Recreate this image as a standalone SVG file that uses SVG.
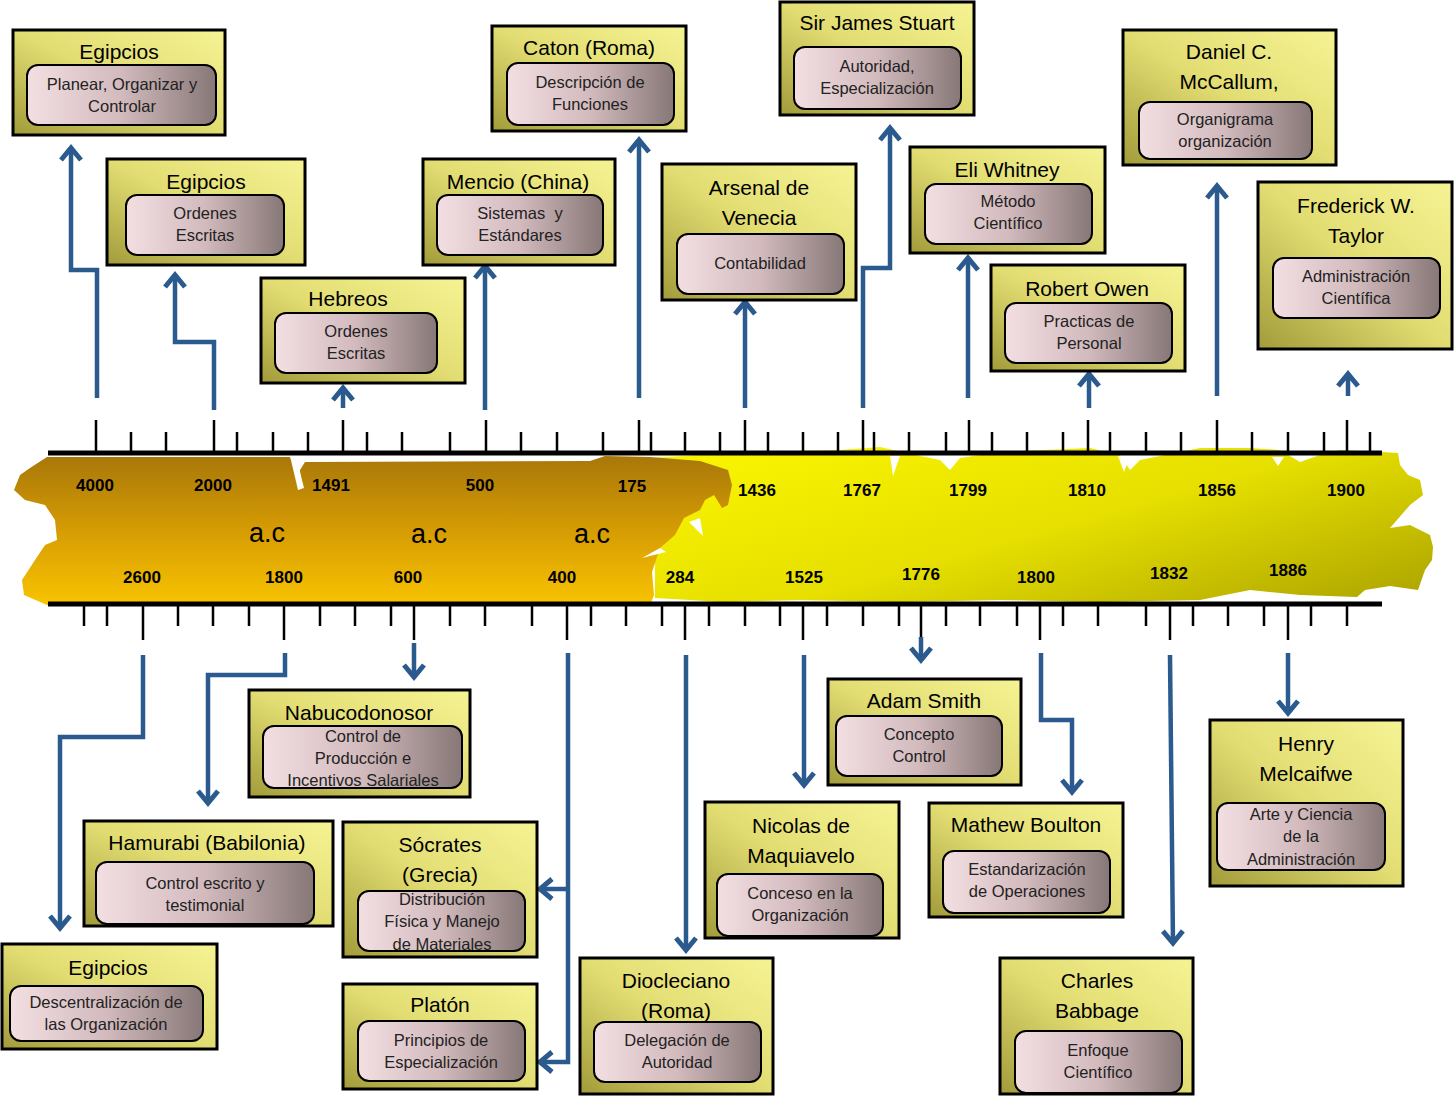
<svg xmlns="http://www.w3.org/2000/svg" width="1454" height="1096" viewBox="0 0 1454 1096">
<defs>
<linearGradient id="gBox" x1="1" y1="0" x2="0" y2="1">
<stop offset="0" stop-color="#f6f394"/>
<stop offset="0.5" stop-color="#e2dd72"/>
<stop offset="1" stop-color="#a29b3a"/>
</linearGradient>
<linearGradient id="gIn" x1="0" y1="0" x2="1" y2="0">
<stop offset="0" stop-color="#f3dfe2"/>
<stop offset="0.5" stop-color="#d2babd"/>
<stop offset="1" stop-color="#877777"/>
</linearGradient>
<linearGradient id="gOr" x1="0" y1="0" x2="0" y2="1">
<stop offset="0" stop-color="#a87709"/>
<stop offset="0.5" stop-color="#d69c04"/>
<stop offset="1" stop-color="#f8c400"/>
</linearGradient>
<linearGradient id="gYe" x1="0" y1="0.2" x2="1" y2="0.9">
<stop offset="0" stop-color="#f8f300"/>
<stop offset="0.5" stop-color="#e6df00"/>
<stop offset="1" stop-color="#b0a800"/>
</linearGradient>
<marker id="ah" markerUnits="userSpaceOnUse" viewBox="-20 -15 26 30" markerWidth="26" markerHeight="30" refX="0" refY="0" orient="auto">
<path d="M-12,-10 L0,0 L-12,10" fill="none" stroke="#2b5a8e" stroke-width="5"/>
</marker>
<style>
.box{fill:url(#gBox);stroke:#000;stroke-width:3}
.in{fill:url(#gIn);stroke:#000;stroke-width:2}
.t{font-family:"Liberation Sans",Arial,sans-serif;font-size:21px;text-anchor:middle;fill:#000}
.s{font-family:"Liberation Sans",Arial,sans-serif;font-size:16.5px;text-anchor:middle;fill:#222}
.yr{font-family:"Liberation Sans",Arial,sans-serif;font-size:17px;font-weight:bold;text-anchor:middle;fill:#000}
.ac{font-family:"Liberation Sans",Arial,sans-serif;font-size:27px;text-anchor:middle;fill:#000}
.conn path{fill:none;stroke:#2b5a8e;stroke-width:4.5;marker-end:url(#ah)}
.tk{stroke:#000;stroke-width:2.5}
.axis{stroke:#000;stroke-width:5}
</style>
</defs>
<rect width="1454" height="1096" fill="#fff"/>

<g id="band">
<path fill="url(#gYe)" d="M650,458 L700,455 L760,452 L840,450 L880,447 L920,456 L940,460 L950,470 L960,458 L1000,452 L1090,448 L1120,455 L1130,470 L1140,460 L1200,448 L1250,448 L1280,450 L1300,462 L1320,455 L1340,450 L1382,452 L1398,453 L1400,465 L1408,475 L1420,480 L1423,495 L1410,505 L1390,528 L1410,525 L1430,535 L1433,547 L1432,560 L1425,570 L1418,590 L1390,586 L1365,590 L1357,597 L1300,595 L1250,590 L1200,600 L1100,602 L1000,600 L900,602 L800,600 L720,602 L690,600 L655,598 L655,460 Z"/>
<path fill="url(#gOr)" d="M47,457 L290,457 L296,470 L301,487 L300,470 L305,462 L590,461 L605,456 L650,457 L700,461 L728,470 L732,485 L728,505 L722,508 L714,495 L705,500 L700,510 L684,518 L675,535 L660,548 L652,572 L654,595 L651,603 L47,605 L24,595 L22,580 L35,560 L45,545 L57,540 L55,520 L45,505 L25,500 L14,490 L20,475 L30,468 Z"/>
<path fill="#fff" d="M290,456 L296,456 L304,488 L298,490 Z"/>
<path fill="#fff" d="M890,456 L900,456 L893,476 Z"/>
<path fill="#fff" d="M1118,456 L1130,456 L1124,472 Z"/>
<path fill="#fff" d="M1272,457 L1284,457 L1278,466 Z"/>
<path fill="#fff" d="M689,522 L700,518 L703,536 Z"/>
<path fill="#fff" d="M642,558 L660,548 L666,552 Z"/>
</g>

<g id="axis">
<line class="axis" x1="48" y1="453" x2="1382" y2="453"/>
<line class="axis" x1="48" y1="604" x2="1382" y2="604"/>
<g class="tk">
<path d="M96,420V453M214,420V453M343,420V453M486,420V453M639,420V453M745,420V453M863,420V453M969,420V453M1088,420V453M1217,420V453M1347,420V453"/>
<path d="M131,432V453M166,432V453M237,432V453M273,432V453M308,432V453M367,432V453M402,432V453M450,432V453M521,432V453M557,432V453M603,432V453M651,432V453M685,432V453M720,432V453M768,432V453M803,432V453M838,432V453M874,432V453M909,432V453M946,432V453M992,432V453M1027,432V453M1063,432V453M1110,432V453M1146,432V453M1181,432V453M1252,432V453M1288,432V453M1324,432V453M1370,432V453"/>
<path d="M143,604V640M284,604V640M414,604V640M567,604V640M685,604V640M803,604V640M921,604V640M1040,604V640M1170,604V640M1288,604V640"/>
<path d="M84,604V626M107,604V626M178,604V626M213,604V626M249,604V626M320,604V626M355,604V626M391,604V626M450,604V626M485,604V626M532,604V626M591,604V626M626,604V626M662,604V626M709,604V626M745,604V626M780,604V626M827,604V626M863,604V626M899,604V626M946,604V626M980,604V626M1017,604V626M1063,604V626M1098,604V626M1146,604V626M1193,604V626M1228,604V626M1264,604V626M1311,604V626M1347,604V626"/>
</g>
</g>

<g id="labels">
<text class="yr" x="95" y="491">4000</text>
<text class="yr" x="213" y="491">2000</text>
<text class="yr" x="331" y="491">1491</text>
<text class="yr" x="480" y="491">500</text>
<text class="yr" x="632" y="492">175</text>
<text class="yr" x="757" y="496">1436</text>
<text class="yr" x="862" y="496">1767</text>
<text class="yr" x="968" y="496">1799</text>
<text class="yr" x="1087" y="496">1810</text>
<text class="yr" x="1217" y="496">1856</text>
<text class="yr" x="1346" y="496">1900</text>
<text class="yr" x="142" y="583">2600</text>
<text class="yr" x="284" y="583">1800</text>
<text class="yr" x="408" y="583">600</text>
<text class="yr" x="562" y="583">400</text>
<text class="yr" x="680" y="583">284</text>
<text class="yr" x="804" y="583">1525</text>
<text class="yr" x="921" y="580">1776</text>
<text class="yr" x="1036" y="583">1800</text>
<text class="yr" x="1169" y="579">1832</text>
<text class="yr" x="1288" y="576">1886</text>
<text class="ac" x="267" y="542">a.c</text>
<text class="ac" x="429" y="543">a.c</text>
<text class="ac" x="592" y="543">a.c</text>
</g>

<g id="connectors" class="conn">
<path d="M97,398 V270 H71 V148"/>
<path d="M214,410 V342 H175 V275"/>
<path d="M343,408 V388"/>
<path d="M485,410 V266"/>
<path d="M639,398 V140"/>
<path d="M745,408 V302"/>
<path d="M863,408 V268 H890 V128"/>
<path d="M968,398 V258"/>
<path d="M1089,408 V374"/>
<path d="M1217,396 V186"/>
<path d="M1348,396 V374"/>
<path d="M143,655 V737 H60 V928"/>
<path d="M285,653 V675 H208 V803"/>
<path d="M414,643 V677"/>
<path d="M568,653 V1062 H540"/>
<path d="M568,889 H540"/>
<path d="M686,655 V950"/>
<path d="M804,655 V785"/>
<path d="M921,637 V660"/>
<path d="M1041,653 V720 H1072 V792"/>
<path d="M1170,655 L1173,943"/>
<path d="M1288,653 V713"/>
</g>

<g id="n1"><rect class="box" x="13" y="30" width="212" height="105"/><text class="t" x="119" y="59">Egipcios</text><rect class="in" x="27" y="65" width="189" height="60" rx="11"/><text class="s" x="122" y="90">Planear, Organizar y</text><text class="s" x="122" y="112">Controlar</text></g>
<g id="n2"><rect class="box" x="107" y="159" width="198" height="106"/><text class="t" x="206" y="189">Egipcios</text><rect class="in" x="126" y="195" width="158" height="60" rx="11"/><text class="s" x="205" y="219">Ordenes</text><text class="s" x="205" y="241">Escritas</text></g>
<g id="n3"><rect class="box" x="261" y="278" width="204" height="105"/><text class="t" x="348" y="306">Hebreos</text><rect class="in" x="275" y="313" width="162" height="60" rx="11"/><text class="s" x="356" y="337">Ordenes</text><text class="s" x="356" y="359">Escritas</text></g>
<g id="n4"><rect class="box" x="423" y="159" width="192" height="106"/><text class="t" x="518" y="189">Mencio (China)</text><rect class="in" x="437" y="195" width="166" height="60" rx="11"/><text class="s" x="520" y="219" xml:space="preserve">Sistemas  y</text><text class="s" x="520" y="241">Estándares</text></g>
<g id="n5"><rect class="box" x="492" y="26" width="194" height="105"/><text class="t" x="589" y="55">Caton (Roma)</text><rect class="in" x="507" y="63" width="167" height="62" rx="11"/><text class="s" x="590" y="88">Descripción de</text><text class="s" x="590" y="110">Funciones</text></g>
<g id="n6"><rect class="box" x="662" y="164" width="194" height="136"/><text class="t" x="759" y="195">Arsenal de</text><text class="t" x="759" y="225">Venecia</text><rect class="in" x="677" y="234" width="167" height="60" rx="11"/><text class="s" x="760" y="269">Contabilidad</text></g>
<g id="n7"><rect class="box" x="780" y="2" width="194" height="113"/><text class="t" x="877" y="30">Sir James Stuart</text><rect class="in" x="794" y="47" width="167" height="62" rx="11"/><text class="s" x="877" y="72">Autoridad,</text><text class="s" x="877" y="94">Especialización</text></g>
<g id="n8"><rect class="box" x="910" y="147" width="195" height="106"/><text class="t" x="1007" y="177">Eli Whitney</text><rect class="in" x="925" y="184" width="167" height="60" rx="11"/><text class="s" x="1008" y="207">Método</text><text class="s" x="1008" y="229">Científico</text></g>
<g id="n9"><rect class="box" x="991" y="265" width="194" height="106"/><text class="t" x="1087" y="296">Robert Owen</text><rect class="in" x="1005" y="303" width="167" height="60" rx="11"/><text class="s" x="1089" y="327">Practicas de</text><text class="s" x="1089" y="349">Personal</text></g>
<g id="n10"><rect class="box" x="1123" y="30" width="213" height="135"/><text class="t" x="1229" y="59">Daniel C.</text><text class="t" x="1229" y="89">McCallum,</text><rect class="in" x="1139" y="102" width="173" height="57" rx="11"/><text class="s" x="1225" y="125">Organigrama</text><text class="s" x="1225" y="147">organización</text></g>
<g id="n11"><rect class="box" x="1258" y="182" width="194" height="167"/><text class="t" x="1356" y="213">Frederick W.</text><text class="t" x="1356" y="243">Taylor</text><rect class="in" x="1273" y="258" width="167" height="60" rx="11"/><text class="s" x="1356" y="282">Administración</text><text class="s" x="1356" y="304">Científica</text></g>
<g id="n12"><rect class="box" x="249" y="690" width="221" height="107"/><text class="t" x="359" y="720">Nabucodonosor</text><rect class="in" x="263" y="726" width="199" height="62" rx="11"/><text class="s" x="363" y="742">Control de</text><text class="s" x="363" y="764">Producción e</text><text class="s" x="363" y="786">Incentivos Salariales</text></g>
<g id="n13"><rect class="box" x="84" y="821" width="249" height="105"/><text class="t" x="207" y="850">Hamurabi (Babilonia)</text><rect class="in" x="96" y="862" width="218" height="62" rx="11"/><text class="s" x="205" y="889">Control escrito y</text><text class="s" x="205" y="911">testimonial</text></g>
<g id="n14"><rect class="box" x="2" y="944" width="215" height="105"/><text class="t" x="108" y="975">Egipcios</text><rect class="in" x="10" y="986" width="193" height="55" rx="11"/><text class="s" x="106" y="1008">Descentralización de</text><text class="s" x="106" y="1030">las Organización</text></g>
<g id="n15"><rect class="box" x="343" y="822" width="194" height="135"/><text class="t" x="440" y="852">Sócrates</text><text class="t" x="440" y="882">(Grecia)</text><rect class="in" x="358" y="891" width="167" height="60" rx="11"/><text class="s" x="442" y="905">Distribución</text><text class="s" x="442" y="927">Física y Manejo</text><text class="s" x="442" y="950">de Materiales</text></g>
<g id="n16"><rect class="box" x="343" y="984" width="194" height="105"/><text class="t" x="440" y="1012">Platón</text><rect class="in" x="358" y="1021" width="167" height="60" rx="11"/><text class="s" x="441" y="1046">Principios de</text><text class="s" x="441" y="1068">Especialización</text></g>
<g id="n17"><rect class="box" x="580" y="958" width="193" height="136"/><text class="t" x="676" y="988">Diocleciano</text><text class="t" x="676" y="1018">(Roma)</text><rect class="in" x="594" y="1022" width="167" height="60" rx="11"/><text class="s" x="677" y="1046">Delegación de</text><text class="s" x="677" y="1068">Autoridad</text></g>
<g id="n18"><rect class="box" x="705" y="802" width="194" height="136"/><text class="t" x="801" y="833">Nicolas de</text><text class="t" x="801" y="863">Maquiavelo</text><rect class="in" x="717" y="874" width="166" height="62" rx="11"/><text class="s" x="800" y="899">Conceso en la</text><text class="s" x="800" y="921">Organización</text></g>
<g id="n19"><rect class="box" x="828" y="679" width="193" height="106"/><text class="t" x="924" y="708">Adam Smith</text><rect class="in" x="836" y="716" width="166" height="60" rx="11"/><text class="s" x="919" y="740">Concepto</text><text class="s" x="919" y="762">Control</text></g>
<g id="n20"><rect class="box" x="929" y="803" width="194" height="114"/><text class="t" x="1026" y="832">Mathew Boulton</text><rect class="in" x="943" y="851" width="167" height="62" rx="11"/><text class="s" x="1027" y="875">Estandarización</text><text class="s" x="1027" y="897">de Operaciones</text></g>
<g id="n21"><rect class="box" x="1210" y="720" width="193" height="166"/><text class="t" x="1306" y="751">Henry</text><text class="t" x="1306" y="781">Melcaifwe</text><rect class="in" x="1217" y="803" width="168" height="67" rx="11"/><text class="s" x="1301" y="820">Arte y Ciencia</text><text class="s" x="1301" y="842">de la</text><text class="s" x="1301" y="865">Administración</text></g>
<g id="n22"><rect class="box" x="1000" y="958" width="193" height="136"/><text class="t" x="1097" y="988">Charles</text><text class="t" x="1097" y="1018">Babbage</text><rect class="in" x="1015" y="1031" width="167" height="62" rx="11"/><text class="s" x="1098" y="1056">Enfoque</text><text class="s" x="1098" y="1078">Científico</text></g>
</svg>
